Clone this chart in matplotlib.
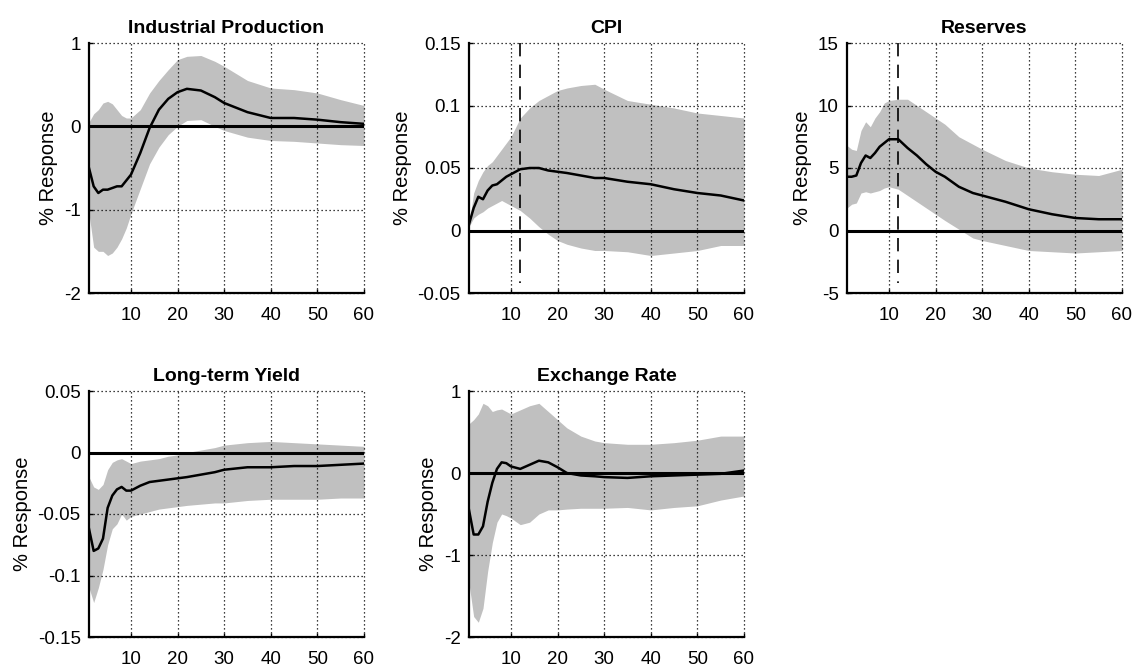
import numpy as np
import matplotlib
matplotlib.use("Agg")
import matplotlib.pyplot as plt

plt.rcParams['font.family'] = ['Liberation Sans', 'DejaVu Sans']

horizon = [1, 2, 3, 4, 5, 6, 7, 8, 9, 10, 12, 14, 16, 18, 20, 22, 25, 28, 30,
           35, 40, 45, 50, 55, 60]

# Industrial Production
ip_mid = [-0.5, -0.72, -0.8, -0.76, -0.76, -0.74, -0.72, -0.72, -0.65, -0.58,
          -0.32, -0.02, 0.2, 0.33, 0.41, 0.45, 0.43, 0.35, 0.28, 0.17, 0.1,
          0.1, 0.08, 0.05, 0.03]
ip_hi = [0.05, 0.15, 0.2, 0.28, 0.3, 0.27, 0.2, 0.13, 0.1, 0.1, 0.2, 0.4,
         0.55, 0.68, 0.8, 0.84, 0.85, 0.78, 0.72, 0.55, 0.46, 0.44, 0.4,
         0.32, 0.25]
ip_lo = [-1.05, -1.45, -1.5, -1.5, -1.55, -1.52, -1.45, -1.35, -1.22, -1.05,
         -0.75, -0.45, -0.25, -0.1, 0.0, 0.07, 0.08, 0.0, -0.05, -0.13, -0.17,
         -0.18, -0.2, -0.22, -0.23]

# CPI
cpi_mid = [0.005, 0.018, 0.027, 0.025, 0.032, 0.036, 0.037, 0.04, 0.043,
           0.045, 0.049, 0.05, 0.05, 0.048, 0.047, 0.046, 0.044, 0.042, 0.042,
           0.039, 0.037, 0.033, 0.03, 0.028, 0.024]
cpi_hi = [0.005, 0.03, 0.04, 0.047, 0.052, 0.055, 0.06, 0.065, 0.07, 0.075,
          0.09, 0.098, 0.104, 0.108, 0.112, 0.114, 0.116, 0.117, 0.113, 0.104,
          0.101, 0.098, 0.094, 0.092, 0.09]
cpi_lo = [0.003, 0.01, 0.013, 0.015, 0.018, 0.02, 0.022, 0.024, 0.022, 0.02,
          0.016, 0.01, 0.003, -0.003, -0.008, -0.011, -0.014, -0.016, -0.016,
          -0.017, -0.02, -0.018, -0.016, -0.012, -0.012]

# Reserves
res_mid = [4.3, 4.3, 4.4, 5.4, 6.0, 5.8, 6.2, 6.7, 7.0, 7.3, 7.3, 6.6, 6.0,
           5.3, 4.7, 4.3, 3.5, 3.0, 2.8, 2.3, 1.7, 1.3, 1.0, 0.9, 0.9]
res_hi = [6.8, 6.5, 6.4, 8.0, 8.7, 8.3, 9.0, 9.5, 10.2, 10.4, 10.5, 10.5,
          10.0, 9.5, 9.0, 8.5, 7.5, 6.9, 6.5, 5.6, 5.0, 4.7, 4.5, 4.4, 4.9]
res_lo = [1.8, 2.1, 2.2, 3.0, 3.1, 3.0, 3.1, 3.2, 3.4, 3.5, 3.3, 2.8, 2.3,
          1.8, 1.3, 0.8, 0.1, -0.6, -0.8, -1.2, -1.6, -1.7, -1.8, -1.7, -1.6]

# Long-term Yield
lty_mid = [-0.062, -0.08, -0.078, -0.07, -0.045, -0.035, -0.03, -0.028,
           -0.031, -0.031, -0.027, -0.024, -0.023, -0.022, -0.021, -0.02,
           -0.018, -0.016, -0.014, -0.012, -0.012, -0.011, -0.011, -0.01,
           -0.009]
lty_hi = [-0.02, -0.028, -0.03, -0.026, -0.014, -0.008, -0.006, -0.005,
          -0.007, -0.009, -0.007, -0.006, -0.005, -0.003, -0.002, 0.0, 0.002,
          0.004, 0.006, 0.008, 0.009, 0.008, 0.007, 0.006, 0.005]
lty_lo = [-0.11, -0.122, -0.11, -0.095, -0.075, -0.062, -0.058, -0.05,
          -0.055, -0.052, -0.05, -0.048, -0.046, -0.045, -0.044, -0.043,
          -0.042, -0.041, -0.041, -0.039, -0.038, -0.038, -0.038, -0.037,
          -0.037]

# Exchange Rate
fx_mid = [-0.45, -0.75, -0.75, -0.65, -0.35, -0.12, 0.05, 0.13, 0.12, 0.08,
          0.05, 0.1, 0.15, 0.13, 0.07, 0.0, -0.03, -0.04, -0.05, -0.06, -0.04,
          -0.03, -0.02, -0.01, 0.03]
fx_hi = [0.6, 0.65, 0.72, 0.85, 0.82, 0.75, 0.77, 0.78, 0.75, 0.72, 0.77,
         0.82, 0.85, 0.75, 0.65, 0.55, 0.45, 0.39, 0.37, 0.35, 0.35, 0.37,
         0.4, 0.45, 0.45]
fx_lo = [-1.35, -1.75, -1.82, -1.65, -1.2, -0.85, -0.6, -0.5, -0.52, -0.55,
         -0.63, -0.6, -0.5, -0.45, -0.45, -0.44, -0.43, -0.43, -0.43, -0.42,
         -0.45, -0.42, -0.4, -0.33, -0.28]

titles = ["Industrial Production", "CPI", "Reserves", "Long-term Yield",
          "Exchange Rate"]
mids = [ip_mid, cpi_mid, res_mid, lty_mid, fx_mid]
his = [ip_hi, cpi_hi, res_hi, lty_hi, fx_hi]
los = [ip_lo, cpi_lo, res_lo, lty_lo, fx_lo]
yticks = [[-2, -1, 0, 1],
          [-0.05, 0, 0.05, 0.1, 0.15],
          [-5, 0, 5, 10, 15],
          [-0.15, -0.1, -0.05, 0, 0.05],
          [-2, -1, 0, 1]]
yticklabels = [["-2", "-1", "0", "1"],
               ["-0.05", "0", "0.05", "0.1", "0.15"],
               ["-5", "0", "5", "10", "15"],
               ["-0.15", "-0.1", "-0.05", "0", "0.05"],
               ["-2", "-1", "0", "1"]]
xticks = [10, 20, 30, 40, 50, 60]
peak_month = [None, 12, 12, None, None]

# axes boxes in pixels (left, top, width, height)
W, H = 1134, 668
boxes = [(89, 43, 275, 250), (469, 43, 275, 250), (847, 43, 275, 250),
         (89, 391, 275, 246), (469, 391, 275, 246)]

fig = plt.figure(figsize=(W / 100, H / 100), dpi=100)

for i in range(5):
    x0, y0, bw, bh = boxes[i]
    ax = fig.add_axes([x0 / W, 1 - (y0 + bh) / H, bw / W, bh / H])
    ymin, ymax = yticks[i][0], yticks[i][-1]

    ax.fill_between(horizon, los[i], his[i], color="#c0c0c0", lw=0, zorder=1)
    ax.axhline(0, color="black", lw=2.2, zorder=4)
    ax.plot(horizon, mids[i], color="black", lw=1.8, zorder=5)
    if peak_month[i] is not None:
        ax.plot([peak_month[i], peak_month[i]],
                [ymax, ymin + 0.04 * (ymax - ymin)],
                color="black", lw=1.2, dashes=(8, 5), zorder=5)

    ax.set_xlim(1, 60)
    ax.set_ylim(ymin, ymax)
    ax.set_xticks(xticks)
    ax.set_yticks(yticks[i])
    ax.set_yticklabels(yticklabels[i])
    ax.set_axisbelow(False)
    ax.grid(True, color="black", linestyle=(0, (1, 2.2)), lw=0.9)
    for g in ax.get_xgridlines() + ax.get_ygridlines():
        g.set_zorder(3)
        g.set_clip_on(False)

    ax.spines["top"].set_visible(False)
    ax.spines["right"].set_visible(False)
    ax.spines["left"].set_linewidth(1.6)
    ax.spines["bottom"].set_linewidth(1.6)
    ax.spines["left"].set_zorder(6)
    ax.spines["bottom"].set_zorder(6)
    ax.tick_params(direction="in", length=3, labelsize=13.5, width=1)
    ax.tick_params(axis="x", pad=10)
    ax.tick_params(axis="y", pad=6)

    ax.set_title(titles[i], fontsize=14, fontweight="bold", pad=7)
    ax.set_ylabel("% Response", fontsize=14.5, labelpad=4)

fig.savefig("out.png", dpi=100)
